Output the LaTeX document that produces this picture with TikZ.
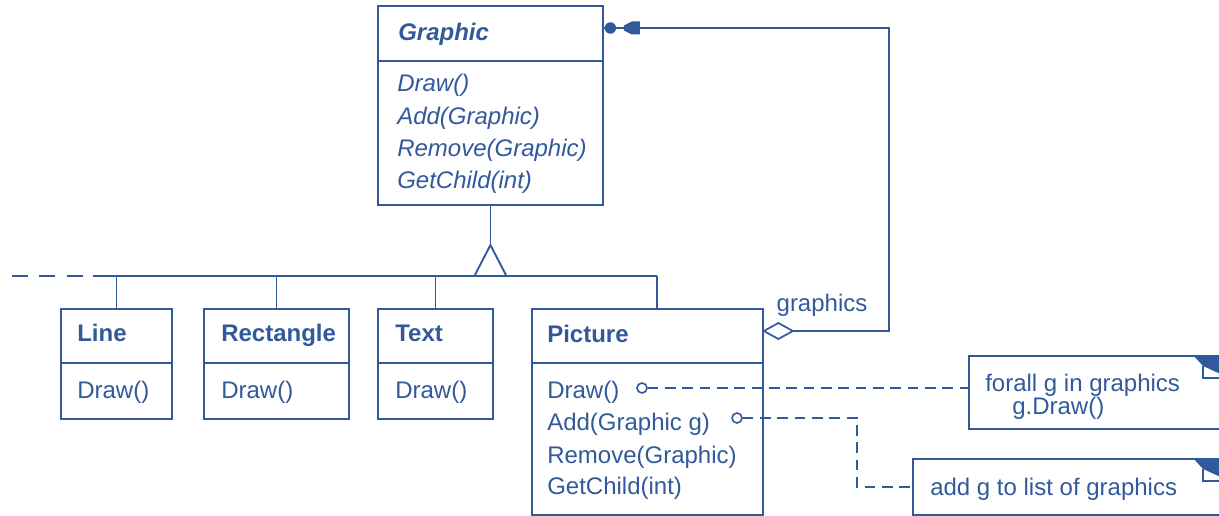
\documentclass[tikz,border=0pt]{standalone}
\usepackage{fontspec}
\setmainfont{Liberation Sans}
\usetikzlibrary{calc}
\definecolor{uml}{RGB}{50,90,155}
\newcommand{\umlfs}{\fontsize{18}{21}\selectfont}
\begin{document}
\begin{tikzpicture}[x=0.75pt,y=-0.75pt,
  box/.style={draw=uml, line width=1.4pt, anchor=north west, inner sep=0pt, fill=white},
  lbl/.style={anchor=west, inner sep=0pt, text height=12.9pt, text depth=0pt, text=uml, font=\umlfs},
  bl/.style={lbl, font=\umlfs\bfseries},
  il/.style={lbl, font=\umlfs\itshape},
  ln/.style={draw=uml, line width=1.4pt},
  dl/.style={ln, dash pattern=on 8pt off 5pt},
  lolli/.style={draw=uml, circle, minimum size=7.5pt, inner sep=0pt, line width=1.2pt, fill=white},
]
\useasboundingbox (0,0) rectangle (1219,516);
\clip (0,0) rectangle (1219,516);

% ---------- class boxes ----------
\node[box, minimum width={225*0.75pt}, minimum height={199*0.75pt}] (graphic) at (377,5) {};
\draw[ln] (graphic.west |- 0,61) -- (graphic.east |- 0,61);
\node[lbl, font=\umlfs\bfseries\itshape] (gname) at (398,32) {Graphic};
\node[il] (gm1) at (397,83) {Draw()};
\node[il] (gm2) at (397,116) {Add(Graphic)};
\node[il] (gm3) at (397,148) {Remove(Graphic)};
\node[il] (gm4) at (397,180) {GetChild(int)};

\node[box, minimum width={111*0.75pt}, minimum height={110*0.75pt}] (line) at (60,308) {};
\draw[ln] (line.west |- 0,363) -- (line.east |- 0,363);
\node[bl] (lname) at (77,333) {Line};
\node[lbl] (lm1) at (77,390) {Draw()};

\node[box, minimum width={145*0.75pt}, minimum height={110*0.75pt}] (rect) at (203,308) {};
\draw[ln] (rect.west |- 0,363) -- (rect.east |- 0,363);
\node[bl] (rname) at (221,333) {Rectangle};
\node[lbl] (rm1) at (221,390) {Draw()};

\node[box, minimum width={115*0.75pt}, minimum height={110*0.75pt}] (text) at (377,308) {};
\draw[ln] (text.west |- 0,363) -- (text.east |- 0,363);
\node[bl] (tname) at (395,333) {Text};
\node[lbl] (tm1) at (395,390) {Draw()};

\node[box, minimum width={231*0.75pt}, minimum height={206*0.75pt}] (picture) at (531,308) {};
\draw[ln] (picture.west |- 0,363) -- (picture.east |- 0,363);
\node[bl] (pname) at (547,334) {Picture};
\node[lbl] (pm1) at (547,390) {Draw()};
\node[lbl] (pm2) at (547,422) {Add(Graphic g)};
\node[lbl] (pm3) at (547,455) {Remove(Graphic)};
\node[lbl] (pm4) at (547,486) {GetChild(int)};

% ---------- notes ----------
\node[box, minimum width={272*0.75pt}, minimum height={73*0.75pt}] (note1) at (968,355) {};
\node[lbl] (n1a) at (985,383) {forall g in graphics};
\node[lbl] (n1b) at (1012,406) {g.Draw()};
\fill[uml] (1193,355) -- (1225,355) -- (1225,376) -- (1203,366) -- cycle;
\draw[ln, line width=1.1pt] (1203,366) -- (1203,378) -- (1225,378);

\node[box, minimum width={328*0.75pt}, minimum height={56*0.75pt}] (note2) at (912,458) {};
\node[lbl] (n2a) at (930,487) {add g to list of graphics};
\fill[uml] (1193,458) -- (1225,458) -- (1225,479) -- (1203,469) -- cycle;
\draw[ln, line width=1.1pt] (1203,469) -- (1203,481) -- (1225,481);

% ---------- generalization ----------
\coordinate (apex) at (graphic.south |- 0,245);
\coordinate (busL) at (93,276);
\coordinate (busR) at (657,276);
\coordinate (busD) at (12,276);
\coordinate (busE) at (85,276);
\draw[ln] (graphic.south) -- (apex);
\draw[ln] (busL) -- (busR);
\draw[ln, dash pattern=on 12pt off 8.5pt] (busD) -- (busE);
\draw[ln, fill=white] (apex) -- ($(apex)+(-16,31)$) -- ($(apex)+(16,31)$) -- cycle;
\draw[ln] (line.north) -- (line.north |- busL);
\draw[ln] (rect.north) -- (rect.north |- busL);
\draw[ln] (text.north) -- (text.north |- busL);
\draw[ln] (busR) -- (busR |- picture.north);

% ---------- aggregation ----------
\coordinate (d0) at (picture.east |- 0,331);
\coordinate (d1) at ($(d0)+(29,0)$);
\coordinate (aggR) at (889,331);
\coordinate (aggT) at (889,28);
\coordinate (gE) at (graphic.east |- aggT);
\draw[ln] (d1) -- (aggR) -- (aggT) -- (gE);
\draw[ln, fill=white, line width=1.3pt] (d0) -- ++(14.5,-8) -- ++(14.5,8) -- ++(-14.5,8) -- cycle;
\node[lbl, anchor=center] (glabel) at (822,303) {graphics};
\fill[uml] ($(gE)+(6.5,0)$) circle[radius=4.3pt];
\fill[uml] ($(gE)+(20,-2.5)$) -- ($(gE)+(28,-6.5)$) -- ($(gE)+(36,-6.5)$) -- ($(gE)+(36,6.5)$) -- ($(gE)+(28,6.5)$) -- ($(gE)+(20,2.5)$) -- cycle;

% ---------- note connectors ----------
\node[lolli] (dc) at (642,388) {};
\node[lolli] (ac) at (737,418) {};
\coordinate (turn) at (857,418);
\draw[dl] (dc.east) -- (dc.east -| note1.west);
\draw[dl] (ac.east) -- (turn) -- (turn |- note2.west) -- (note2.west);
\end{tikzpicture}
\end{document}
